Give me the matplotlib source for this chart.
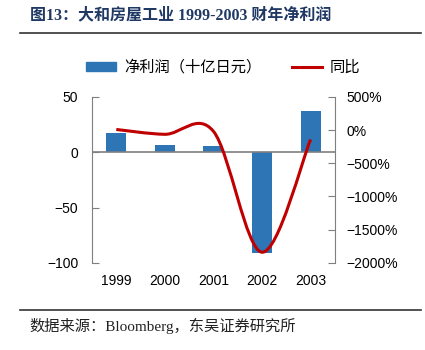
import numpy as np
import matplotlib
matplotlib.use('Agg')
import matplotlib.pyplot as plt
from matplotlib.path import Path
from matplotlib.patches import PathPatch, Patch
from matplotlib.lines import Line2D
from matplotlib.ticker import FuncFormatter

# data
years = ['1999', '2000', '2001', '2002', '2003']
net_profit = [17.5, 6.5, 5.3, -91.4, 37.5]   # 十亿日元
yoy = [10, -63, -18, -1840, -141]            # %

plt.rcParams['font.family'] = ['Liberation Sans', 'Noto Sans CJK SC']
plt.rcParams['axes.unicode_minus'] = True

fig = plt.figure(figsize=(4.25, 3.5), dpi=100)
ax = fig.add_axes([0.2165, 0.249, 0.5715, 0.474])
ax2 = ax.twinx()

x = np.arange(len(years))
ax.bar(x, net_profit, width=0.41, color='#2e75b6', zorder=2)
ax.axhline(0, color='#7f7f7f', lw=1.2, zorder=3)

# smoothed line (Catmull-Rom style, like the Excel "smoothed line")
pts = np.column_stack([x, yoy]).astype(float)
ext = np.vstack([pts[0], pts, pts[-1]])
verts = [tuple(pts[0])]
codes = [Path.MOVETO]
for i in range(len(pts) - 1):
    p0, p1, p2, p3 = ext[i], ext[i + 1], ext[i + 2], ext[i + 3]
    c1 = p1 + (p2 - p0) / 6
    c2 = p2 - (p3 - p1) / 6
    verts += [tuple(c1), tuple(c2), tuple(p2)]
    codes += [Path.CURVE4] * 3
ax2.add_patch(PathPatch(Path(verts, codes), facecolor='none', edgecolor='#c00000', lw=2.2, zorder=4))

ax.set_xlim(-0.5, 4.5)
ax.set_ylim(-100, 50)
ax.set_yticks([-100, -50, 0, 50])
ax2.set_ylim(-2000, 500)
ax2.set_yticks([-2000, -1500, -1000, -500, 0, 500])
ax2.yaxis.set_major_formatter(FuncFormatter(lambda v, p: f'{v:.0f}%'.replace('-', '\u2212')))

ax.set_xticks(x)
ax.set_xticklabels(years)
ax.tick_params(axis='x', length=0, pad=8, labelsize=10)
ax.tick_params(axis='y', direction='in', length=5, color='#7f7f7f', labelsize=10, pad=10)
ax2.tick_params(axis='y', direction='in', length=5, color='#7f7f7f', labelsize=10, pad=8)

for a in (ax, ax2):
    for s in ('top', 'bottom'):
        a.spines[s].set_visible(False)
ax.spines['right'].set_visible(False)
ax.spines['left'].set_color('#7f7f7f')
ax2.spines['left'].set_visible(False)
ax2.spines['right'].set_color('#7f7f7f')

# legend
handles = [Patch(color='#2e75b6'), Line2D([], [], color='#c00000', lw=2.2)]
fig.legend(handles, ['净利润（十亿日元）', '同比'], loc='center', bbox_to_anchor=(0.525, 0.808),
           ncol=2, frameon=False, handlelength=2.0, handleheight=0.5, handletextpad=0.5,
           columnspacing=2.0, prop={'family': ['Noto Sans CJK SC'], 'size': 11})

# title, rules and source
fig.text(0.07, 0.955, '图13：大和房屋工业 1999-2003 财年净利润', fontsize=11.5, fontweight='bold',
         color='#1f3864', va='center', family=['Liberation Serif', 'Noto Sans CJK SC'])
fig.add_artist(Line2D([0.047, 0.99], [0.907, 0.907], color='#333333', lw=1.2))
fig.add_artist(Line2D([0.047, 0.99], [0.113, 0.113], color='#333333', lw=1.2))
fig.text(0.07, 0.07, '数据来源：Bloomberg，东吴证券研究所', fontsize=11, color='#222222',
         va='center', family=['Liberation Serif', 'Noto Sans CJK SC'])

fig.savefig('out.png', dpi=100)
